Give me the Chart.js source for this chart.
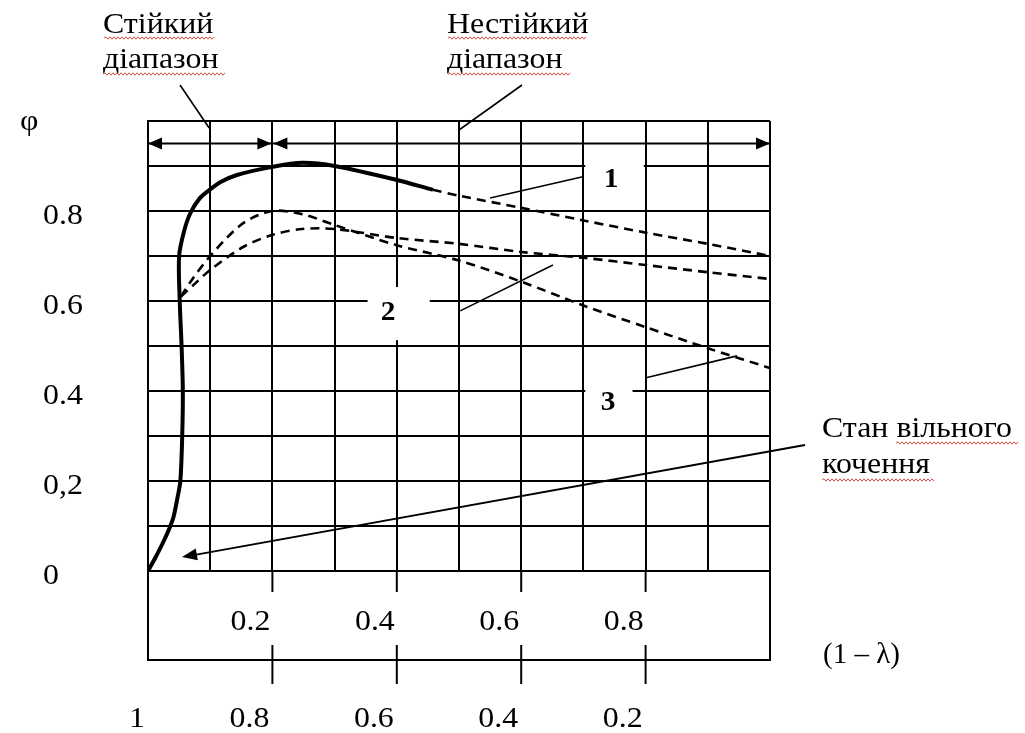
<!DOCTYPE html>
<html lang="uk">
<head>
<meta charset="UTF-8">
<title>φ (1 – λ)</title>
<script src="https://cdn.jsdelivr.net/npm/chart.js"></script>
<style>
  html, body { margin: 0; padding: 0; background: #fff; }
  .wrap { width: 1025px; height: 733px; position: relative; }
</style>
</head>
<body>
<div class="wrap"><canvas id="chart"></canvas></div>
<script>
// slip (1 - lambda) on x, adhesion coefficient phi on y
// curve 1, solid part (stable range + hump)
const solidSlip = [0, 0.012, 0.023, 0.033, 0.041, 0.047, 0.052, 0.055, 0.056, 0.054, 0.051, 0.050, 0.058, 0.068, 0.083, 0.1, 0.116, 0.143, 0.2, 0.248, 0.3, 0.4, 0.458];
const solidPhi  = [0, 0.03, 0.06, 0.09, 0.12, 0.16, 0.2, 0.3, 0.4, 0.5, 0.6, 0.7, 0.755, 0.795, 0.828, 0.848, 0.864, 0.88, 0.898, 0.907, 0.9, 0.869, 0.847];
// curve 1, dashed continuation
const dash1Slip = [0.458, 0.5, 0.6, 0.7, 0.8, 0.9, 1.0];
const dash1Phi  = [0.847, 0.834, 0.807, 0.779, 0.752, 0.727, 0.70];
// curve 2 (lower hump)
const dash2Slip = [0.053, 0.075, 0.1, 0.153, 0.2, 0.248, 0.3, 0.4, 0.5, 0.6, 0.7, 0.8, 0.9, 1.0];
const dash2Phi  = [0.61, 0.638, 0.669, 0.72, 0.747, 0.76, 0.76, 0.74, 0.727, 0.709, 0.696, 0.68, 0.664, 0.649];
// curve 3 (peak 0.8, falls to 0.45)
const dash3Slip = [0.053, 0.067, 0.1, 0.153, 0.2, 0.248, 0.3, 0.4, 0.5, 0.6, 0.7, 0.8, 0.9, 1.0];
const dash3Phi  = [0.61, 0.64, 0.70, 0.773, 0.80, 0.793, 0.769, 0.724, 0.69, 0.643, 0.59, 0.542, 0.495, 0.451];

const yTickValues = [0, 0.2, 0.4, 0.6, 0.8];
const yTickLabels = ['0', '0,2', '0.4', '0.6', '0.8'];
const xTickValues = [0.2, 0.4, 0.6, 0.8];
const xTickLabels = ['0.2', '0.4', '0.6', '0.8'];
const lambdaTickValues = [0, 0.2, 0.4, 0.6, 0.8];
const lambdaTickLabels = ['1', '0.8', '0.6', '0.4', '0.2'];
const stableRange = [0, 0.2];
const unstableRange = [0.2, 1.0];
const rangeArrowPhi = 0.95;

const SERIF = '"Liberation Serif", "Times New Roman", serif';

function pts(xs, ys) {
  return xs.map((x, i) => ({ x: x, y: ys[i] }));
}

function txt(ctx, s, x, y, o) {
  o = Object.assign({ size: 29, align: 'left', weight: 'normal', sx: 1.1, base: 'alphabetic' }, o || {});
  ctx.save();
  ctx.font = o.weight + ' ' + o.size + 'px ' + SERIF;
  ctx.fillStyle = '#000';
  ctx.textAlign = o.align;
  ctx.textBaseline = o.base;
  ctx.translate(x, y);
  ctx.scale(o.sx, 1);
  ctx.fillText(s, 0, 0);
  ctx.restore();
}

function wavy(ctx, x1, x2, y) {
  ctx.save();
  ctx.strokeStyle = '#d0504a';
  ctx.lineWidth = 1;
  ctx.beginPath();
  ctx.moveTo(x1, y);
  let up = true;
  for (let x = x1 + 2; x <= x2; x += 2) {
    ctx.lineTo(x, up ? y - 1.2 : y + 1.2);
    up = !up;
  }
  ctx.stroke();
  ctx.restore();
}

function line(ctx, x1, y1, x2, y2, w) {
  ctx.lineWidth = w || 2;
  ctx.beginPath();
  ctx.moveTo(x1, y1);
  ctx.lineTo(x2, y2);
  ctx.stroke();
}

function head(ctx, tx, ty, fx, fy, len, half) {
  const a = Math.atan2(ty - fy, tx - fx);
  const bx = tx - len * Math.cos(a), by = ty - len * Math.sin(a);
  ctx.beginPath();
  ctx.moveTo(tx, ty);
  ctx.lineTo(bx + half * Math.sin(a), by - half * Math.cos(a));
  ctx.lineTo(bx - half * Math.sin(a), by + half * Math.cos(a));
  ctx.closePath();
  ctx.fill();
}

// label boxes that cut the grid (data units)
const gaps = [
  { x: [0.703, 0.797], y: [0.87, 0.93] },
  { x: [0.353, 0.453], y: [0.513, 0.631] },
  { x: [0.703, 0.779], y: [0.37, 0.43] }
];

const extras = {
  id: 'extras',
  beforeDatasetsDraw(chart) {
    const ctx = chart.ctx, xs = chart.scales.x, ys = chart.scales.y;
    ctx.save();
    ctx.fillStyle = '#fff';
    gaps.forEach(g => {
      const l = xs.getPixelForValue(g.x[0]), r = xs.getPixelForValue(g.x[1]);
      const t = ys.getPixelForValue(g.y[1]), b = ys.getPixelForValue(g.y[0]);
      ctx.fillRect(l, t, r - l, b - t);
    });
    // range arrows row
    ctx.strokeStyle = '#000';
    ctx.fillStyle = '#000';
    const ya = ys.getPixelForValue(rangeArrowPhi);
    line(ctx, xs.getPixelForValue(0), ya, xs.getPixelForValue(1), ya, 2);
    const s0 = xs.getPixelForValue(stableRange[0]), s1 = xs.getPixelForValue(stableRange[1]);
    const u0 = xs.getPixelForValue(unstableRange[0]), u1 = xs.getPixelForValue(unstableRange[1]);
    head(ctx, s0, ya, s0 + 10, ya, 14, 6);
    head(ctx, s1 - 1, ya, s1 - 10, ya, 14, 6);
    head(ctx, u0 + 1, ya, u0 + 10, ya, 14, 6);
    head(ctx, u1, ya, u1 - 10, ya, 14, 6);
    ctx.restore();
  },
  afterDatasetsDraw(chart) {
    const ctx = chart.ctx, xs = chart.scales.x, ys = chart.scales.y;
    const X = v => xs.getPixelForValue(v), Y = v => ys.getPixelForValue(v);
    ctx.save();
    ctx.strokeStyle = '#000';
    ctx.fillStyle = '#000';

    // box under the grid with the two slip scales
    const y0 = Y(0), yb = y0 + 89;
    line(ctx, X(0), y0, X(0), yb, 2);
    line(ctx, X(1), y0, X(1), yb, 2);
    line(ctx, X(0) - 1, yb, X(1) + 1, yb, 2);
    xTickValues.forEach((v, i) => {
      line(ctx, X(v), y0, X(v), y0 + 21, 2);
      line(ctx, X(v), yb - 15, X(v), yb + 24, 2);
      txt(ctx, xTickLabels[i], X(v) - 2, y0 + 59, { align: 'right' });
    });
    lambdaTickValues.forEach((v, i) => {
      txt(ctx, lambdaTickLabels[i], X(v) - 3, y0 + 156, { align: 'right' });
    });
    txt(ctx, '(1 – λ)', 823, 663, { sx: 1.0 });

    // phi axis labels
    yTickValues.forEach((v, i) => {
      txt(ctx, yTickLabels[i], 43, Y(v) + 13);
    });
    txt(ctx, 'φ', 20, 130);

    // range titles
    txt(ctx, 'Стійкий', 103, 33);
    txt(ctx, 'діапазон', 103, 68);
    txt(ctx, 'Нестійкий', 447, 33);
    txt(ctx, 'діапазон', 447, 68);
    wavy(ctx, 104, 215, 38);
    wavy(ctx, 103, 226, 74);
    wavy(ctx, 448, 587, 38);
    wavy(ctx, 448, 570, 74);
    line(ctx, 180, 85, X(0.1) - 1, Y(1) + 7, 1.6);
    line(ctx, 522, 85, X(0.5), Y(1) + 9, 1.6);

    // curve numbers with leaders
    txt(ctx, '1', 611, 180, { weight: 'bold', align: 'center', base: 'middle', size: 28, sx: 1.05 });
    txt(ctx, '2', 388, 313, { weight: 'bold', align: 'center', base: 'middle', size: 28, sx: 1.05 });
    txt(ctx, '3', 608, 403, { weight: 'bold', align: 'center', base: 'middle', size: 28, sx: 1.05 });
    line(ctx, X(0.55), Y(0.829), X(0.699), Y(0.876), 1.6);
    line(ctx, X(0.502), Y(0.578), X(0.651), Y(0.68), 1.6);
    line(ctx, X(0.799), Y(0.429), X(0.947), Y(0.478), 1.6);

    // free rolling state
    txt(ctx, 'Стан вільного', 822, 437);
    txt(ctx, 'кочення', 822, 473);
    wavy(ctx, 896, 1019, 443);
    wavy(ctx, 822, 935, 480);
    const ax = X(0.0547), ay = Y(0.031);
    line(ctx, 805, 445, ax + 6, ay - 1, 1.8);
    head(ctx, ax, ay, 805, 445, 15, 6);
    ctx.restore();
  }
};

const dashStyle = { borderColor: '#000', borderWidth: 2.6, borderDash: [9, 6], pointRadius: 0, showLine: true, tension: 0.3, fill: false };

new Chart(document.getElementById('chart'), {
  type: 'scatter',
  data: {
    datasets: [
      { label: '1', data: pts(solidSlip, solidPhi), borderColor: '#000', borderWidth: 4, pointRadius: 0, showLine: true, tension: 0.3, fill: false },
      Object.assign({ label: '1 (unstable)', data: pts(dash1Slip, dash1Phi) }, dashStyle),
      Object.assign({ label: '2', data: pts(dash2Slip, dash2Phi) }, dashStyle),
      Object.assign({ label: '3', data: pts(dash3Slip, dash3Phi) }, dashStyle)
    ]
  },
  options: {
    responsive: true,
    maintainAspectRatio: false,
    animation: false,
    events: [],
    layout: { padding: { left: 148, right: 255, top: 121, bottom: 162 } },
    plugins: { legend: { display: false }, tooltip: { enabled: false } },
    scales: {
      x: {
        type: 'linear', min: 0, max: 1,
        ticks: { display: false, stepSize: 0.1 },
        grid: { color: '#000', lineWidth: 2, drawTicks: false },
        border: { display: true, color: '#000', width: 2 }
      },
      y: {
        type: 'linear', min: 0, max: 1,
        ticks: { display: false, stepSize: 0.1 },
        grid: { color: '#000', lineWidth: 2, drawTicks: false },
        border: { display: true, color: '#000', width: 2 }
      }
    }
  },
  plugins: [extras]
});
</script>
</body>
</html>
